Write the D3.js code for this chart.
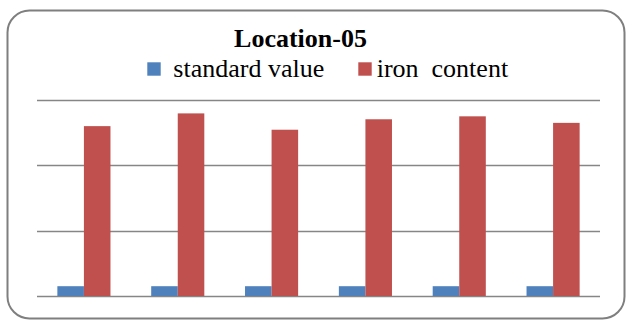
<!DOCTYPE html>
<html>
<head>
<meta charset="utf-8">
<script src="https://cdn.jsdelivr.net/npm/d3@7"></script>
</head>
<body style="margin:0">
<script>
//Data
const categories = ["1", "2", "3", "4", "5", "6"];
const seriesNames = ["standard value", "iron  content"];
const standardValue = [0.3, 0.3, 0.3, 0.3, 0.3, 0.3];
const ironContent = [5.2, 5.59, 5.09, 5.41, 5.5, 5.3];
const yTicks = [0, 2, 4, 6];

//Size
const width = 627, height = 320;
const margin = { top: 100, right: 24, bottom: 24, left: 37 };

//Colors
const color = d3.scaleOrdinal().domain(seriesNames).range(["#4f81bd", "#c0504d"]);

const svg = d3.select("body").append("svg")
  .attr("width", width)
  .attr("height", height)
  .style("font-family", "'Liberation Serif', serif");

//Border
svg.append("rect")
  .attr("x", 7.5).attr("y", 10.5)
  .attr("width", 617).attr("height", 308)
  .attr("rx", 22).attr("ry", 22)
  .attr("fill", "#fff")
  .attr("stroke", "#7f7f7f")
  .attr("stroke-width", 2);

//Scales
const x0 = d3.scaleBand()
  .domain(categories)
  .range([margin.left, width - margin.right - 3])
  .paddingInner(0.434)
  .paddingOuter(0.217);
const x1 = d3.scaleBand()
  .domain(seriesNames)
  .range([0, x0.bandwidth()]);
const y = d3.scaleLinear()
  .domain([0, 6])
  .range([height - margin.bottom, margin.top]);

//Gridlines
svg.append("g")
  .selectAll("line")
  .data(yTicks)
  .enter().append("line")
  .attr("x1", margin.left)
  .attr("x2", width - margin.right - 3)
  .attr("y1", d => Math.round(y(d)) + 0.5)
  .attr("y2", d => Math.round(y(d)) + 0.5)
  .attr("stroke", "#868686")
  .attr("stroke-width", 1.5);

//Bars
const rows = categories.map((c, i) => ({ cat: c, values: [standardValue[i], ironContent[i]] }));
const groups = svg.selectAll(".group")
  .data(rows)
  .enter().append("g")
  .attr("transform", d => "translate(" + x0(d.cat) + ",0)");
groups.selectAll("rect")
  .data(d => d.values.map((v, j) => ({ name: seriesNames[j], value: v })))
  .enter().append("rect")
  .attr("x", d => x1(d.name))
  .attr("y", d => y(d.value))
  .attr("width", x1.bandwidth())
  .attr("height", d => y(0) - y(d.value))
  .attr("fill", d => color(d.name));

//Title
svg.append("text")
  .attr("x", 300.5)
  .attr("y", 46.7)
  .attr("text-anchor", "middle")
  .attr("font-size", 26)
  .attr("font-weight", "bold")
  .attr("fill", "#000")
  .text("Location-05");

//Legend
const legendX = [147.3, 358.3];
const legend = svg.selectAll(".legend")
  .data(seriesNames)
  .enter().append("g")
  .attr("transform", (d, i) => "translate(" + legendX[i] + ",62.3)");
legend.append("rect")
  .attr("width", 13.4).attr("height", 13.4)
  .attr("fill", d => color(d));
legend.append("text")
  .attr("x", (d, i) => i === 0 ? 26 : 18.4)
  .attr("y", 14.4)
  .attr("font-size", 26)
  .attr("fill", "#000")
  .style("white-space", "pre")
  .text(d => d);
</script>
</body>
</html>
